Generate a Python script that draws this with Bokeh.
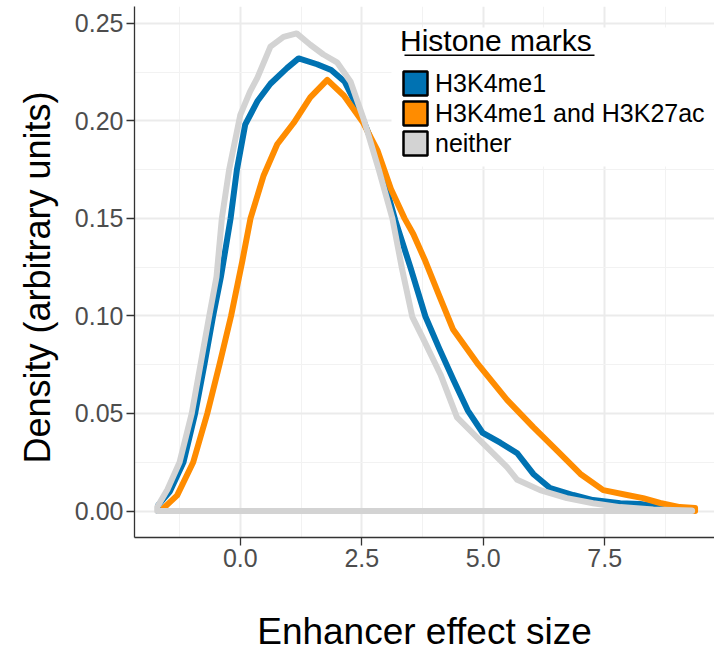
from bokeh.plotting import figure
from bokeh.models import (Range1d, FixedTicker, PrintfTickFormatter, Legend, LegendItem,
                          BoxAnnotation, Title)
from bokeh.embed import file_html
from bokeh.resources import INLINE

# ---- data ----
series_names = ["H3K4me1", "H3K4me1 and H3K27ac", "neither"]
series_colors = ["#0072B2", "#FF8C00", "#D3D3D3"]

h3k4me1_x = [-1.69, -1.45, -1.17, -0.93, -0.74, -0.56, -0.4, -0.2, -0.07, 0.1, 0.35, 0.62,
             0.96, 1.2, 1.58, 1.87, 2.15, 2.49, 2.82, 3.19, 3.5, 3.81, 4.1, 4.39, 4.68, 4.99,
             5.35, 5.7, 6.03, 6.38, 6.85, 7.26, 7.82, 8.23, 8.7, 9.1]
h3k4me1_y = [0.003, 0.010, 0.025, 0.05, 0.075, 0.1, 0.12, 0.15, 0.175, 0.198, 0.21, 0.219,
             0.227, 0.232, 0.229, 0.226, 0.22, 0.203, 0.182, 0.149, 0.125, 0.0997, 0.083,
             0.067, 0.0516, 0.040, 0.035, 0.0296, 0.019, 0.0117, 0.0082, 0.0056, 0.004,
             0.0036, 0.002, 0.001]

both_x = [-1.58, -1.3, -0.97, -0.68, -0.43, -0.19, 0.04, 0.21, 0.48, 0.76, 1.1, 1.44, 1.79,
          2.13, 2.53, 2.82, 3.1, 3.38, 3.56, 3.81, 4.1, 4.38, 4.9, 5.49, 6.03, 6.52, 7.0,
          7.47, 7.96, 8.29, 8.64, 9.05, 9.36]
both_y = [0.0015, 0.008, 0.025, 0.05, 0.075, 0.1, 0.128, 0.15, 0.172, 0.188, 0.199, 0.212,
          0.221, 0.213, 0.199, 0.185, 0.165, 0.15, 0.142, 0.128, 0.11, 0.093, 0.075, 0.057,
          0.043, 0.031, 0.019, 0.0107, 0.0082, 0.0066, 0.0041, 0.002, 0.0015]

neither_x = [-1.71, -1.5, -1.25, -1.0, -0.82, -0.64, -0.49, -0.38, -0.23, 0.0, 0.2, 0.35,
             0.62, 0.89, 1.16, 1.44, 1.71, 1.99, 2.27, 2.55, 2.85, 3.13, 3.33, 3.54, 3.75,
             4.12, 4.46, 4.98, 5.49, 5.7, 6.17, 6.72, 7.26, 7.82, 8.5, 9.3]
neither_y = [0.002, 0.011, 0.025, 0.05, 0.075, 0.1, 0.12, 0.15, 0.175, 0.203, 0.215, 0.222,
             0.238, 0.243, 0.2448, 0.239, 0.234, 0.230, 0.220, 0.2, 0.175, 0.15, 0.124,
             0.0995, 0.089, 0.07, 0.048, 0.035, 0.0225, 0.016, 0.0107, 0.0066, 0.004, 0.002,
             0.0008, 0.0002]

x_ticks = [0.0, 2.5, 5.0, 7.5]
x_minor = [-1.25, 1.25, 3.75, 6.25, 8.75]
y_ticks = [0.0, 0.05, 0.10, 0.15, 0.20, 0.25]
y_minor = [0.025, 0.075, 0.125, 0.175, 0.225]

x_title = "Enhancer effect size"
y_title = "Density (arbitrary units)"
legend_title = "Histone marks"

FONT = "Liberation Sans"

p = figure(width=714, height=654, output_backend="svg", toolbar_location=None,
           x_range=Range1d(-2.178, 9.76), y_range=Range1d(-0.01358, 0.2586),
           min_border_left=133, min_border_right=0, min_border_top=6, min_border_bottom=117)
p.outline_line_color = None
p.background_fill_color = "white"

# grids
p.xgrid.ticker = FixedTicker(ticks=x_ticks, minor_ticks=x_minor)
p.ygrid.ticker = FixedTicker(ticks=y_ticks, minor_ticks=y_minor)
for g in (p.xgrid, p.ygrid):
    g.grid_line_color = "#EBEBEB"
    g.grid_line_width = 2
    g.minor_grid_line_color = "#F2F2F2"
    g.minor_grid_line_width = 1

# axes
p.xaxis.ticker = FixedTicker(ticks=x_ticks)
p.yaxis.ticker = FixedTicker(ticks=y_ticks)
p.xaxis.formatter = PrintfTickFormatter(format="%.1f")
p.yaxis.formatter = PrintfTickFormatter(format="%.2f")
for ax in (p.xaxis, p.yaxis):
    ax.axis_line_color = "#333333"
    ax.axis_line_width = 1.3
    ax.major_tick_line_color = "#333333"
    ax.major_tick_line_width = 1.3
    ax.major_tick_in = 0
    ax.major_tick_out = 8
    ax.minor_tick_line_color = None
    ax.major_label_text_font = FONT
    ax.major_label_text_font_size = "25px"
    ax.major_label_text_color = "#4D4D4D"
p.xaxis.major_label_standoff = 3
p.yaxis.major_label_standoff = 3

# x title as the axis label
p.xaxis.axis_label = x_title
p.xaxis.axis_label_text_font = FONT
p.xaxis.axis_label_text_font_size = "37px"
p.xaxis.axis_label_text_font_style = "normal"
p.xaxis.axis_label_text_color = "black"
p.xaxis.axis_label_standoff = 41

# y title placed like the reference
p.add_layout(Title(text=y_title, align="left", offset=74,
                   text_font=FONT, text_font_size="36px", text_font_style="normal",
                   text_color="black", standoff=28), "left")

# white box behind the legend (legend itself is transparent so the underline shows)
p.add_layout(BoxAnnotation(left=257, right=581, top=510, bottom=371,
                           left_units="screen", right_units="screen",
                           top_units="screen", bottom_units="screen",
                           fill_color="white", fill_alpha=1.0, line_color=None))

# density outlines (closed polygons, as ggplot draws them)
all_x = [h3k4me1_x, both_x, neither_x]
all_y = [h3k4me1_y, both_y, neither_y]
for xs, ys, c in zip(all_x, all_y, series_colors):
    px = list(xs) + [xs[-1], xs[0]]
    py = list(ys) + [0.0, 0.0]
    p.patch(px, py, fill_color=None, line_color=c, line_width=6,
            line_join="round", line_cap="round")

# legend keys (filled squares with black outline); NaN geometry so only the key is drawn
nan = float("nan")
items = []
for name, c in zip(series_names, series_colors):
    r = p.quad(left=[nan], right=[nan], top=[nan], bottom=[nan], fill_color=c,
               line_color="black", line_width=2.5)
    items.append(LegendItem(label=name, renderers=[r]))

legend = Legend(items=items, location=(266, 379), title=legend_title,
                title_text_font=FONT, title_text_font_size="30px",
                title_text_font_style="normal", title_text_color="black",
                title_standoff=10,
                label_text_font=FONT, label_text_font_size="25px",
                label_text_color="black",
                glyph_width=30, glyph_height=30, label_height=30, spacing=0,
                label_standoff=5, padding=4, margin=0,
                background_fill_alpha=0.0, border_line_color=None)
p.add_layout(legend, "center")

# underline of the legend title
p.add_layout(BoxAnnotation(left=270, right=460, top=483, bottom=481.5,
                           left_units="screen", right_units="screen",
                           top_units="screen", bottom_units="screen",
                           fill_color="black", fill_alpha=1.0, line_color=None))

open("out.html", "w").write(file_html(p, INLINE))
